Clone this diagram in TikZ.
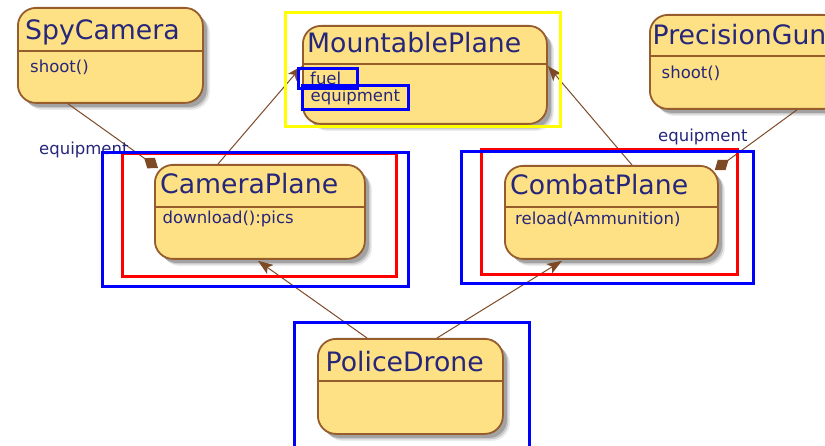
\documentclass[tikz,border=0pt]{standalone}
\usepackage{fontspec}
\setmainfont{DejaVu Sans}
\usetikzlibrary{shadows,arrows.meta,calc}
\definecolor{boxfill}{RGB}{254,225,132}
\definecolor{boxline}{RGB}{150,92,44}
\definecolor{linkcol}{RGB}{125,74,38}
\definecolor{txt}{RGB}{38,38,122}
\definecolor{hlblue}{RGB}{0,0,255}
\definecolor{hlred}{RGB}{255,0,0}
\definecolor{hlyellow}{RGB}{255,255,0}
\begin{document}
\begin{tikzpicture}[x=1pt,y=-1pt,
  classbox/.style={draw=boxline, line width=1.8pt, fill=boxfill,
    rounded corners=18pt, inner sep=0pt, anchor=north west,
    general shadow={shadow xshift=7pt, shadow yshift=-7pt, fill=black, opacity=0.08},
    general shadow={shadow xshift=5.5pt, shadow yshift=-5.5pt, fill=black, opacity=0.14},
    general shadow={shadow xshift=4pt, shadow yshift=-4pt, fill=black, opacity=0.2}},
  classname/.style={text=txt, font=\fontsize{26.7}{30}\selectfont, inner sep=0pt, anchor=base west},
  member/.style={text=txt, font=\fontsize{16.5}{19}\selectfont, inner sep=0pt, anchor=base west},
  divider/.style={draw=boxline, line width=1.8pt},
  extends/.style={draw=linkcol, line width=1pt, -{Stealth[length=15pt, width=11pt, inset=3.5pt]}},
  composes/.style={draw=linkcol, line width=1pt, -{Diamond[length=17pt, width=13pt]}},
  hlbox/.style={line width=3pt}]
\useasboundingbox (0,0) rectangle (825,446);

% class boxes
\node[classbox, minimum width=185pt, minimum height=95pt] (spy) at (17,7) {};
\node[classbox, minimum width=244pt, minimum height=98pt] (mount) at (302,25) {};
\node[classbox, minimum width=191pt, minimum height=94pt] (gun) at (649,14) {};
\node[classbox, minimum width=210pt, minimum height=94pt] (camera) at (154,164) {};
\node[classbox, minimum width=213pt, minimum height=93pt] (combat) at (504,165) {};
\node[classbox, minimum width=185pt, minimum height=95pt] (police) at (317,338) {};

% name / member dividers
\draw[divider] (spy.west |- 0,51) -- (spy.east |- 0,51);
\draw[divider] (mount.west |- 0,64) -- (mount.east |- 0,64);
\draw[divider] (gun.west |- 0,56) -- (gun.east |- 0,56);
\draw[divider] (camera.west |- 0,206.7) -- (camera.east |- 0,206.7);
\draw[divider] (combat.west |- 0,206.7) -- (combat.east |- 0,206.7);
\draw[divider] (police.west |- 0,380.7) -- (police.east |- 0,380.7);

% class names
\node[classname] (spyN) at (25,40) {SpyCamera};
\node[classname] (mountN) at (307,53) {MountablePlane};
\node[classname] (gunN) at (652.5,45) {PrecisionGun};
\node[classname] (cameraN) at (160,193.3) {CameraPlane};
\node[classname] (combatN) at (510,194.3) {CombatPlane};
\node[classname] (policeN) at (325.5,371) {PoliceDrone};

% members
\node[member] (spyM) at (30,72.7) {shoot()};
\node[member] (fuelM) at (310,85) {fuel};
\node[member] (equipM) at (310.5,101.5) {equipment};
\node[member] (gunM) at (661.5,79) {shoot()};
\node[member] (cameraM) at (162.5,224) {download():pics};
\node[member] (combatM) at (515,225) {reload(Ammunition)};

% connectors
\draw[composes] ($(spy.south west)+(51,0)$) -- ($(camera.north west)+(4,4)$);
\draw[composes] ($(gun.south west)+(148,0)$) -- ($(combat.north east)+(-4,5)$);
\draw[extends] ($(camera.north west)+(64,0)$) -- ($(mount.north west)+(0,41)$);
\draw[extends] ($(combat.north west)+(128,0)$) -- ($(mount.north east)+(0,41)$);
\draw[extends] ($(police.north west)+(50,0)$) -- ($(camera.south west)+(104,1)$);
\draw[extends] ($(police.north west)+(120,0)$) -- ($(combat.south west)+(58,1)$);

% role labels
\node[member] (roleA) at (39,155) {equipment};
\node[member] (roleB) at (658,141.7) {equipment};

% highlight frames
\draw[hlbox, draw=hlyellow] (285,13) rectangle (560,127);
\draw[hlbox, draw=hlblue] (298,68.5) rectangle (357,89);
\draw[hlbox, draw=hlblue] (302,86) rectangle (408,110);
\draw[hlbox, draw=hlred] (122,154) rectangle (396,277);
\draw[hlbox, draw=hlblue] (102,153) rectangle (408,287);
\draw[hlbox, draw=hlred] (481,150) rectangle (737,275);
\draw[hlbox, draw=hlblue] (461,152) rectangle (753,284);
\draw[hlbox, draw=hlblue] (294,323) rectangle (529,460);
\end{tikzpicture}
\end{document}
